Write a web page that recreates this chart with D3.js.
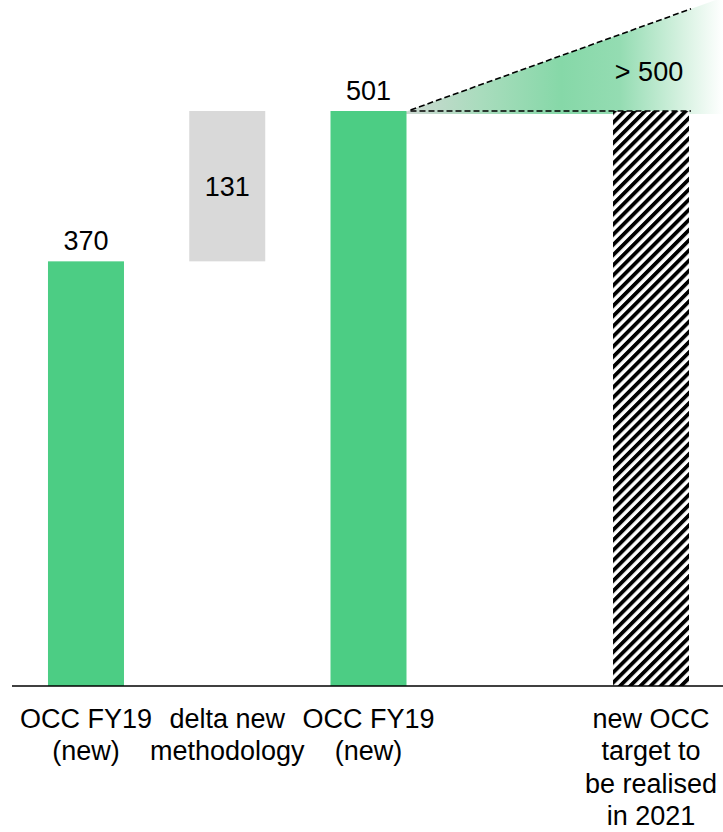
<!DOCTYPE html>
<html>
<head>
<meta charset="utf-8">
<script src="https://cdn.jsdelivr.net/npm/d3@7/dist/d3.min.js"></script>
<style>
  html, body { margin: 0; padding: 0; background: #fff; }
  svg { display: block; }
  text { font-family: "Liberation Sans", Arial, sans-serif; fill: #000; }
</style>
</head>
<body>
<div id="chart"></div>
<script>
// ---- data ----
const categories = ["c1", "c2", "c3", "gap", "c4"];
const categoryLabels = [
  ["OCC FY19", "(new)"],
  ["delta new", "methodology"],
  ["OCC FY19", "(new)"],
  [],
  ["new OCC", "target to", "be realised", "in 2021"]
];
const barStart = [0, 370, 0, null, 0];
const barEnd   = [370, 501, 501, null, 501];
const valueLabels = ["370", "131", "501", "", ""];
const barKinds = ["green", "grey", "green", "none", "hatch"];
const targetLabel = "> 500";
const targetBase = 501;
const targetUpper = 590;

// ---- layout ----
const W = 723, H = 832;
const baseY = 686;

const svg = d3.select("#chart").append("svg")
  .attr("width", W).attr("height", H);

const x = d3.scaleBand()
  .domain(categories)
  .range([15.35, 721.65])
  .paddingInner(0.462)
  .paddingOuter(0.231);

const y = d3.scaleLinear().domain([0, 501]).range([baseY, 111]);

const defs = svg.append("defs");
const pat = defs.append("pattern")
  .attr("id", "hatch")
  .attr("patternUnits", "userSpaceOnUse")
  .attr("width", 7.2).attr("height", 7.2)
  .attr("patternTransform", "rotate(45)");
pat.append("rect").attr("width", 7.2).attr("height", 7.2).attr("fill", "#fff");
pat.append("rect").attr("width", 3.8).attr("height", 7.2).attr("fill", "#000");

const grad = defs.append("linearGradient")
  .attr("id", "fade")
  .attr("gradientUnits", "userSpaceOnUse")
  .attr("x1", 400).attr("x2", 723).attr("y1", 0).attr("y2", 0);
[[0, "#cfd8d3"], [0.25, "#a9dcbd"], [0.5, "#86d8a8"], [0.68, "#94dcb2"],
 [0.88, "#d8f2e2"], [1, "#ffffff"]].forEach(([o, c]) =>
  grad.append("stop").attr("offset", o).attr("stop-color", c));

const colors = { green: "#4ccd84", grey: "#d9d9d9", hatch: "url(#hatch)" };

// target wedge
const i3 = 2, i4 = 4;
const apexX = x(categories[i3]) + x.bandwidth();
const dashEndX = x(categories[i4]) + x.bandwidth() + 2;
const topY = y(targetUpper);
const baseTY = y(targetBase);
const slope = (baseTY - topY) / (dashEndX - apexX);
svg.append("path")
  .attr("d", `M${apexX - 7},${baseTY + 3} L${W},${topY - slope * (W - dashEndX)} L${W},${baseTY + 3} Z`)
  .attr("fill", "url(#fade)");

// bars
categories.forEach((c, i) => {
  if (barKinds[i] === "none") return;
  svg.append("rect")
    .attr("x", x(c))
    .attr("width", x.bandwidth())
    .attr("y", y(barEnd[i]))
    .attr("height", y(barStart[i]) - y(barEnd[i]))
    .attr("fill", colors[barKinds[i]]);
});

// dashed lines
svg.append("line")
  .attr("x1", apexX + 4).attr("y1", baseTY - 1)
  .attr("x2", dashEndX).attr("y2", topY)
  .attr("stroke", "#000").attr("stroke-width", 1.6)
  .attr("stroke-dasharray", "6,3");
svg.append("line")
  .attr("x1", apexX + 4).attr("y1", baseTY)
  .attr("x2", dashEndX).attr("y2", baseTY)
  .attr("stroke", "#000").attr("stroke-width", 1.6)
  .attr("stroke-dasharray", "6,3");

// axis line
svg.append("line")
  .attr("x1", 12).attr("x2", W).attr("y1", baseY).attr("y2", baseY)
  .attr("stroke", "#000").attr("stroke-width", 1.5);

// value labels
categories.forEach((c, i) => {
  if (!valueLabels[i]) return;
  const cx = x(c) + x.bandwidth() / 2;
  let ty;
  if (barKinds[i] === "grey") ty = (y(barStart[i]) + y(barEnd[i])) / 2 + 10;
  else ty = y(barEnd[i]) - 11;
  svg.append("text")
    .attr("x", cx).attr("y", ty)
    .attr("text-anchor", "middle")
    .attr("font-size", 27)
    .text(valueLabels[i]);
});

svg.append("text")
  .attr("x", x(categories[i4]) + x.bandwidth() / 2 - 2)
  .attr("y", 81)
  .attr("text-anchor", "middle")
  .attr("font-size", 27)
  .text(targetLabel);

// category labels
categories.forEach((c, i) => {
  const cx = x(c) + x.bandwidth() / 2;
  categoryLabels[i].forEach((line, j) => {
    svg.append("text")
      .attr("x", cx).attr("y", 728 + j * 32.3)
      .attr("text-anchor", "middle")
      .attr("font-size", 27)
      .text(line);
  });
});
</script>
</body>
</html>
